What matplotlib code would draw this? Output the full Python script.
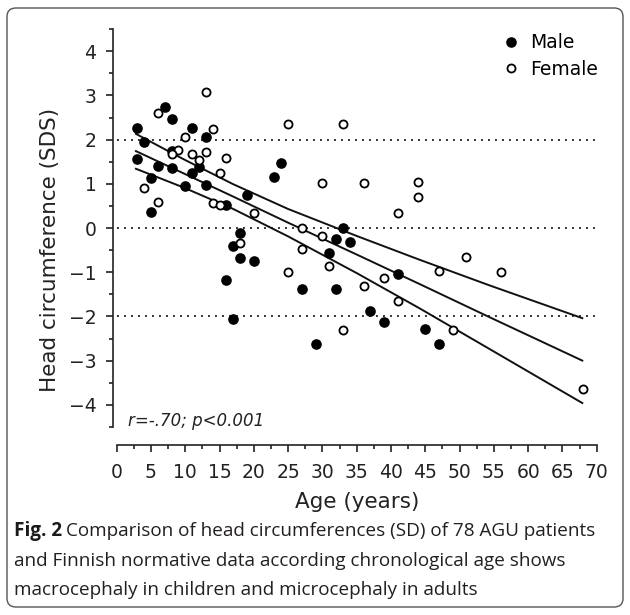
import matplotlib

matplotlib.use("Agg")

import matplotlib.pyplot as plt
from matplotlib.lines import Line2D
from matplotlib.patches import FancyBboxPatch


# values
male_age = [3, 7, 8, 11, 13, 4, 3, 8, 6, 8, 11, 12, 5, 10, 13, 19, 16, 5, 23, 24,
            18, 17, 18, 20, 16, 17, 27, 33, 32, 34, 31, 32, 41, 37, 39, 45, 47, 29]
male_sds = [2.26, 2.74, 2.47, 2.26, 2.06, 1.94, 1.56, 1.74, 1.40, 1.35, 1.24, 1.37,
            1.13, 0.94, 0.98, 0.74, 0.53, 0.36, 1.16, 1.47, -0.11, -0.40, -0.67,
            -0.75, -1.17, -2.05, -1.37, 0.01, -0.26, -0.31, -0.56, -1.37, -1.05,
            -1.87, -2.12, -2.29, -2.62, -2.62]

female_age = [13, 6, 14, 10, 25, 9, 8, 11, 13, 12, 16, 15, 4, 6, 14, 15, 20, 18, 25,
              33, 30, 36, 44, 44, 41, 27, 30, 27, 31, 39, 36, 41, 47, 51, 33, 49,
              56, 68]
female_sds = [3.07, 2.61, 2.23, 2.07, 2.35, 1.76, 1.67, 1.67, 1.72, 1.54, 1.59, 1.24,
              0.90, 0.58, 0.56, 0.51, 0.34, -0.34, -1.00, 2.35, 1.02, 1.02, 1.03,
              0.70, 0.35, 0.01, -0.19, -0.47, -0.87, -1.12, -1.32, -1.65, -0.98,
              -0.66, -2.31, -2.31, -1.00, -3.65]

# regression line and its band, read at a few ages
band_age = [2.8, 9.7, 17, 25, 35, 44.2, 54.4, 67.9]
band_upper = [2.13, 1.56, 0.99, 0.43, -0.18, -0.72, -1.30, -2.04]
band_fit = [1.74, 1.24, 0.71, 0.12, -0.60, -1.27, -2.02, -3.00]
band_lower = [1.34, 0.92, 0.43, -0.19, -1.02, -1.82, -2.74, -3.96]

ref_levels = [2, 0, -2]

caption_lines = [
    "Comparison of head circumferences (SD) of 78 AGU patients",
    "and Finnish normative data according chronological age shows",
    "macrocephaly in children and microcephaly in adults",
]

W, H = 630, 615

plt.rcParams["font.family"] = ["DejaVu Sans"]

fig = plt.figure(figsize=(W / 100, H / 100), dpi=100)


def px_box(left, top, right, bottom):
    return [left / W, 1 - bottom / H, (right - left) / W, (bottom - top) / H]


ax = fig.add_axes(px_box(116.7, 29.1, 596.7, 426.9))
ax.set_xlim(0, 70)
ax.set_ylim(-4.25, 4.25)

for side in ["top", "right"]:
    ax.spines[side].set_visible(False)
ax.spines["left"].set_position(("outward", 2.5))
ax.spines["bottom"].set_position(("outward", 13))
for side in ["left", "bottom"]:
    ax.spines[side].set_linewidth(1.2)
    ax.spines[side].set_color("#222222")

ax.set_xticks(range(0, 71, 5))
ax.set_xticks([x + 2.5 for x in range(0, 70, 5)], minor=True)
ax.set_yticks(range(-4, 5))
ax.set_yticks([y + 0.5 for y in range(-5, 5)], minor=True)
ax.tick_params(which="major", direction="out", length=5, width=1.2,
               color="#222222", labelsize=13.5, labelcolor="#222222")
ax.tick_params(which="minor", direction="out", length=3, width=1.2,
               color="#222222")
ax.tick_params(axis="y", pad=7)
ax.tick_params(axis="x", pad=8)

ax.hlines(ref_levels, 0, 70, colors="#333333", linewidth=1.4,
          linestyles=(0, (1, 2.6)))

for band in [band_upper, band_fit, band_lower]:
    ax.plot(band_age, band, color="#111111", linewidth=1.4)

ax.scatter(male_age, male_sds, s=44, color="black", zorder=3)
ax.scatter(female_age, female_sds, s=34, facecolor="white",
           edgecolor="black", linewidth=1.3, zorder=3)

ax.text(1.65, -4.36, "r=-.70; p<0.001", style="italic", fontsize=12,
        va="center", ha="left", color="#222222")

handles = [
    Line2D([], [], linestyle="none", marker="o", markersize=6.6,
           color="black"),
    Line2D([], [], linestyle="none", marker="o", markersize=5.8,
           markerfacecolor="white", markeredgecolor="black",
           markeredgewidth=1.3),
]
fig.legend(handles, ["Male", "Female"], loc="upper left",
           bbox_to_anchor=(492 / W, 1 - 24 / H), frameon=False,
           borderpad=0, handlelength=1.0, handletextpad=0.55,
           labelspacing=0.4, fontsize=13.5)

fig.text(50 / W, 1 - 250 / H, "Head circumference (SDS)", rotation=90,
         ha="center", va="center", fontsize=15.5, color="#222222")
fig.text(356.7 / W, 1 - 502 / H, "Age (years)", ha="center",
         va="center", fontsize=15.5, color="#222222")

# caption, first word in bold
caption_y = [531, 561, 590]
cap_size = 13.6
renderer = fig.canvas.get_renderer()
bold = fig.text(14 / W, 1 - caption_y[0] / H, "Fig. 2", family="Open Sans",
                weight="bold", fontsize=cap_size, va="center", color="#1a1a1a")
bb = bold.get_window_extent(renderer)
fig.text((bb.x1 + 4) / W, 1 - caption_y[0] / H, caption_lines[0],
         family="Open Sans", fontsize=cap_size, va="center", color="#231f20")
for line, y in zip(caption_lines[1:], caption_y[1:]):
    fig.text(14 / W, 1 - y / H, line, family="Open Sans", fontsize=cap_size,
             va="center", color="#231f20")

frame = FancyBboxPatch((7 / W, 8 / H), 616 / W, 599 / H,
                       boxstyle="round,pad=0,rounding_size=0.014",
                       transform=fig.transFigure, fill=False,
                       edgecolor="#555555", linewidth=1.0)
fig.patches.append(frame)

fig.savefig("out.png", dpi=100)
